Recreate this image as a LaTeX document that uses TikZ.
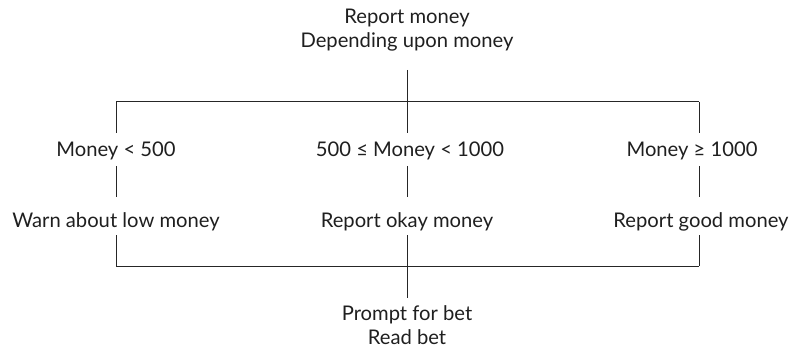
\documentclass[tikz,border=0pt]{standalone}
\usepackage{fontspec}
\setmainfont{Lato}
\usetikzlibrary{calc}
\begin{document}
\begin{tikzpicture}[x=1pt,y=-1pt,
  lbl/.style={anchor=base, inner sep=0pt, font=\fontsize{20.2}{24}\selectfont, text=black!88},
  conn/.style={line width=1pt, draw=black!85}]
\useasboundingbox (0,0) rectangle (791,347);
\node[lbl] (t1) at (407,24) {Report money};
\node[lbl] (t2) at (407,48) {Depending upon money};
\coordinate (tj) at (407,102);
\coordinate (lj) at (116,102);
\coordinate (rj) at (699,102);
\node[lbl] (c1) at (116,157) {Money < 500};
\node[lbl] (c2) at (410,157) {500 ≤ Money < 1000};
\node[lbl] (c3) at (692,157) {Money ≥ 1000};
\node[lbl] (a1) at (116,227) {Warn about low money};
\node[lbl] (a2) at (407,227) {Report okay money};
\node[lbl] (a3) at (701,227) {Report good money};
\coordinate (bj) at (407,266);
\coordinate (bl) at (116,266);
\coordinate (br) at (699,266);
\node[lbl] (b1) at (407,320) {Prompt for bet};
\node[lbl] (b2) at (407,344) {Read bet};
\draw[conn] ($(t2.base)+(0,22)$) -- (tj);
\draw[conn] (lj) -- (rj);
\foreach \c/\a/\j/\k in {c1/a1/lj/bl, c2/a2/tj/bj, c3/a3/rj/br}{
  \draw[conn] (\j) -- (\j |- {$(\c.base)+(0,-24)$});
  \draw[conn] (\j |- {$(\c.base)+(0,9)$}) -- (\j |- {$(\a.base)+(0,-30)$});
  \draw[conn] (\j |- {$(\a.base)+(0,8)$}) -- (\k);
}
\draw[conn] (bl) -- (br);
\draw[conn] (bj) -- ($(b1.base)+(0,-22)$);
\end{tikzpicture}
\end{document}
